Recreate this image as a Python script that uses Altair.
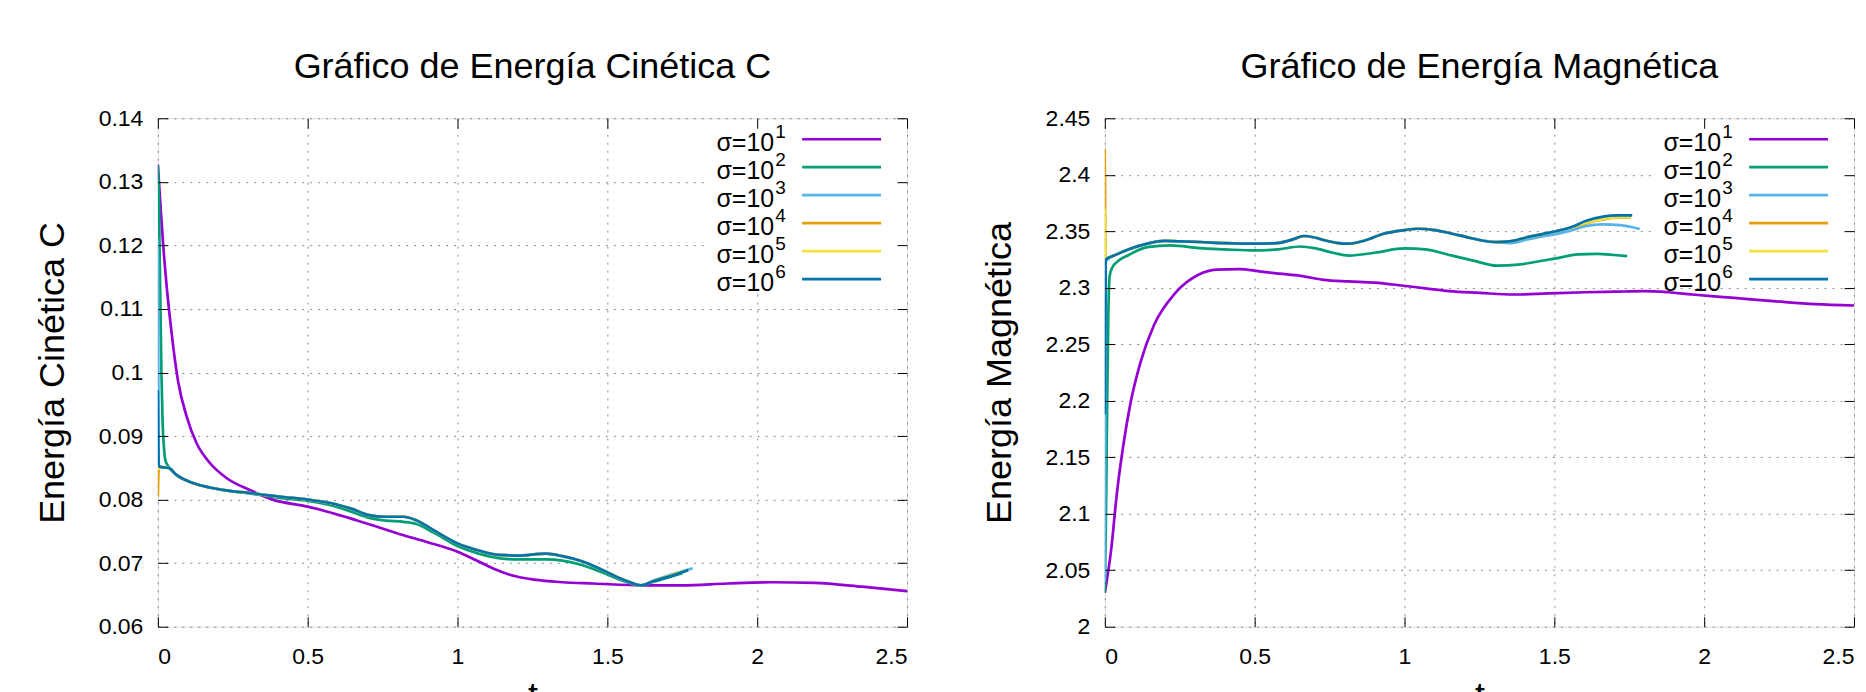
import altair as alt
import pandas as pd

FONT = "Liberation Sans"

# ---------------- series identity ----------------
series_names = ["σ=10^1", "σ=10^2", "σ=10^3", "σ=10^4", "σ=10^5", "σ=10^6"]
legend_base = ["σ=10", "σ=10", "σ=10", "σ=10", "σ=10", "σ=10"]
legend_exp = ["1", "2", "3", "4", "5", "6"]
series_colors = ["#9400d3", "#009e73", "#56b4e9", "#e69f00", "#f0e442", "#0072b2"]

x_ticks = [0, 0.5, 1, 1.5, 2, 2.5]
k_ticks = [0.06, 0.07, 0.08, 0.09, 0.1, 0.11, 0.12, 0.13, 0.14]
m_ticks = [2.0, 2.05, 2.1, 2.15, 2.2, 2.25, 2.3, 2.35, 2.4, 2.45]

# ---------------- Energía Cinética C ----------------
K1_t = [0, 0.009, 0.018, 0.029, 0.04, 0.051, 0.068, 0.096, 0.129, 0.173, 0.229, 0.307, 0.383, 0.5,
        0.66, 0.82, 0.9, 1.0, 1.06, 1.117, 1.18, 1.256, 1.35, 1.454, 1.613, 1.75, 1.9, 2.05, 2.19,
        2.35, 2.5]
K1_v = [0.1327, 0.1262, 0.1200, 0.1138, 0.1087, 0.1042, 0.0985, 0.0931, 0.0889, 0.0858, 0.0834,
        0.0815, 0.0800, 0.0789, 0.0768, 0.0744, 0.0733, 0.0718, 0.0705, 0.0692, 0.0681, 0.0674,
        0.0670, 0.0668, 0.0665, 0.0665, 0.0668, 0.0670, 0.0669, 0.0663, 0.0656]

K2_t = [0, 0.004, 0.008, 0.012, 0.016, 0.02, 0.025, 0.034, 0.062, 0.118, 0.173, 0.25, 0.30, 0.362,
        0.42, 0.50, 0.57, 0.60, 0.65, 0.70, 0.76, 0.82, 0.86, 0.92, 1.0, 1.07, 1.137, 1.2, 1.296,
        1.35, 1.415, 1.48, 1.554, 1.613, 1.65, 1.70, 1.75]
K2_v = [0.1325, 0.126, 0.112, 0.100, 0.092, 0.0885, 0.0862, 0.0853, 0.0839, 0.0826, 0.0819, 0.0813,
        0.0810, 0.0806, 0.0802, 0.0798, 0.0792, 0.0788, 0.0780, 0.0772, 0.0767, 0.0765, 0.0762,
        0.0748, 0.0727, 0.0715, 0.0708, 0.0706, 0.0706, 0.0704, 0.0697, 0.0686, 0.0672, 0.0665,
        0.0670, 0.0677, 0.0684]

K_common_t = [0.036, 0.062, 0.118, 0.173, 0.25, 0.30, 0.362, 0.42, 0.50, 0.57, 0.60, 0.65, 0.70,
              0.76, 0.82, 0.86, 0.92, 1.0, 1.07, 1.137, 1.2, 1.296, 1.35, 1.415, 1.48, 1.554, 1.613]
K_common_v = [0.0850, 0.0839, 0.0826, 0.0819, 0.0813, 0.0811, 0.0807, 0.0804, 0.0800, 0.0795,
              0.0792, 0.0785, 0.0776, 0.0773, 0.0773, 0.0768, 0.0752, 0.0731, 0.0720, 0.0713,
              0.0712, 0.0715, 0.0711, 0.0703, 0.0690, 0.0674, 0.0665]

K3_start_t = [0, 0.003, 0.012]
K3_start_v = [0.121, 0.0853, 0.0851]
K3_tail_t = [1.65, 1.70, 1.785]
K3_tail_v = [0.0672, 0.0680, 0.0692]

K4_start_t = [0, 0.003, 0.012]
K4_start_v = [0.0805, 0.0850, 0.0851]
K4_tail_t = [1.65, 1.70, 1.76]
K4_tail_v = [0.0671, 0.0679, 0.0688]

K5_start_t = [0, 0.003, 0.012]
K5_start_v = [0.0846, 0.0850, 0.0851]
K5_tail_t = [1.65, 1.70, 1.765]
K5_tail_v = [0.0671, 0.0679, 0.0689]

K6_start_t = [0, 0.003, 0.012]
K6_start_v = [0.0972, 0.0853, 0.0851]
K6_tail_t = [1.65, 1.70, 1.77]
K6_tail_v = [0.0671, 0.0678, 0.0689]

# ---------------- Energía Magnética ----------------
M1_t = [0, 0.022, 0.039, 0.062, 0.085, 0.119, 0.165, 0.234, 0.314, 0.372, 0.45, 0.515, 0.58, 0.653,
        0.73, 0.812, 0.9, 0.99, 1.07, 1.149, 1.25, 1.366, 1.48, 1.604, 1.70, 1.802, 1.88, 1.96, 2.1,
        2.24, 2.37, 2.5]
M1_v = [2.030, 2.070, 2.115, 2.161, 2.197, 2.234, 2.2675, 2.295, 2.3117, 2.316, 2.3165, 2.3145,
        2.3125, 2.3105, 2.307, 2.3056, 2.3045, 2.302, 2.2995, 2.297, 2.2955, 2.294, 2.295, 2.296,
        2.2965, 2.297, 2.296, 2.294, 2.291, 2.288, 2.2855, 2.2843]

M2_t = [0, 0.004, 0.008, 0.012, 0.016, 0.025, 0.039, 0.08, 0.142, 0.22, 0.317, 0.40, 0.5, 0.58,
        0.653, 0.70, 0.76, 0.815, 0.90, 1.0, 1.07, 1.149, 1.23, 1.308, 1.38, 1.441, 1.505, 1.58,
        1.644, 1.70, 1.743]
M2_v = [2.03, 2.10, 2.20, 2.28, 2.31, 2.318, 2.3225, 2.329, 2.336, 2.3375, 2.335, 2.334, 2.333,
        2.334, 2.3365, 2.335, 2.331, 2.3285, 2.331, 2.3348, 2.334, 2.329, 2.324, 2.3195, 2.3205,
        2.323, 2.326, 2.3295, 2.330, 2.329, 2.328]

M_common_t = [0.031, 0.08, 0.142, 0.198, 0.25, 0.317, 0.40, 0.5, 0.574, 0.63, 0.663, 0.70, 0.733,
              0.78, 0.812, 0.87, 0.93, 1.0, 1.045, 1.1, 1.149, 1.22, 1.297]
M_common_v = [2.3285, 2.334, 2.339, 2.3415, 2.341, 2.3405, 2.3395, 2.339, 2.3395, 2.343, 2.3458,
              2.3445, 2.342, 2.3395, 2.339, 2.342, 2.3478, 2.3510, 2.3522, 2.351, 2.3485, 2.344,
              2.3405]

M3_start_t = [0, 0.003, 0.012]
M3_start_v = [2.04, 2.323, 2.3255]
M3_tail_t = [1.35, 1.406, 1.46, 1.505, 1.56, 1.604, 1.66, 1.72, 1.785]
M3_tail_v = [2.3395, 2.3425, 2.3455, 2.3475, 2.351, 2.3545, 2.356, 2.3555, 2.352]

M4_start_t = [0, 0.003, 0.012]
M4_start_v = [2.423, 2.326, 2.3265]
M4_tail_t = [1.35, 1.406, 1.46, 1.505, 1.56, 1.604, 1.663, 1.71, 1.755]
M4_tail_v = [2.341, 2.3445, 2.3475, 2.350, 2.3535, 2.357, 2.3605, 2.362, 2.362]

M5_start_t = [0, 0.003, 0.012]
M5_start_v = [2.37, 2.326, 2.3265]
M5_tail_t = [1.35, 1.406, 1.46, 1.505, 1.56, 1.604, 1.663, 1.71, 1.755]
M5_tail_v = [2.341, 2.3445, 2.3475, 2.350, 2.3535, 2.3575, 2.361, 2.3625, 2.3625]

M6_start_t = [0, 0.003, 0.012]
M6_start_v = [2.188, 2.325, 2.3265]
M6_tail_t = [1.35, 1.406, 1.46, 1.505, 1.56, 1.604, 1.663, 1.71, 1.76]
M6_tail_v = [2.341, 2.3445, 2.3475, 2.350, 2.354, 2.359, 2.363, 2.364, 2.364]


def build(parts):
    rows = []
    for order, (name, t, v) in enumerate(parts):
        for a, b in zip(t, v):
            rows.append({"t": a, "v": b, "serie": name, "k": order})
    return pd.DataFrame(rows)


kin_df = build([
    (series_names[0], K1_t, K1_v),
    (series_names[1], K2_t, K2_v),
    (series_names[2], K3_start_t + K_common_t + K3_tail_t, K3_start_v + K_common_v + K3_tail_v),
    (series_names[3], K4_start_t + K_common_t + K4_tail_t, K4_start_v + K_common_v + K4_tail_v),
    (series_names[4], K5_start_t + K_common_t + K5_tail_t, K5_start_v + K_common_v + K5_tail_v),
    (series_names[5], K6_start_t + K_common_t + K6_tail_t, K6_start_v + K_common_v + K6_tail_v),
])

mag_df = build([
    (series_names[0], M1_t, M1_v),
    (series_names[1], M2_t, M2_v),
    (series_names[2], M3_start_t + M_common_t + M3_tail_t, M3_start_v + M_common_v + M3_tail_v),
    (series_names[3], M4_start_t + M_common_t + M4_tail_t, M4_start_v + M_common_v + M4_tail_v),
    (series_names[4], M5_start_t + M_common_t + M5_tail_t, M5_start_v + M_common_v + M5_tail_v),
    (series_names[5], M6_start_t + M_common_t + M6_tail_t, M6_start_v + M_common_v + M6_tail_v),
])

legend_df = pd.DataFrame({
    "serie": series_names,
    "base": legend_base,
    "exp": legend_exp,
    "row": list(range(len(series_names))),
})

W, H = 750, 509
color_scale = alt.Scale(domain=series_names, range=series_colors)


def panel(df, y_domain, y_ticks, y_title, title):
    xs = alt.Scale(domain=[0, 2.5], nice=False, zero=False)
    ys = alt.Scale(domain=y_domain, nice=False, zero=False)

    lines = alt.Chart(df).mark_line(strokeWidth=2.7, interpolate="monotone", clip=True).encode(
        x=alt.X("t:Q", scale=xs, axis=alt.Axis(
            values=x_ticks, format="~g", title="t", grid=True, gridDash=[2, 6],
            gridColor="#8a8a8a", gridWidth=1, ticks=False, tickSize=0, domain=False,
            labelFontSize=23, labelPadding=19, labelColor="#000", labelFont=FONT,
            titleFont=FONT, titleFontSize=36, titleFontWeight="normal", titleColor="#000",
            titlePadding=10)),
        y=alt.Y("v:Q", scale=ys, axis=alt.Axis(
            values=y_ticks, format="~g", title=y_title, grid=True, gridDash=[2, 6],
            gridColor="#8a8a8a", gridWidth=1, ticks=False, tickSize=0, domain=False,
            labelFontSize=23, labelPadding=15, labelColor="#000", labelFont=FONT,
            titleFont=FONT, titleFontSize=36, titleFontWeight="normal", titleColor="#000",
            titlePadding=27)),
        color=alt.Color("serie:N", scale=color_scale, legend=None),
        detail="k:Q",
    )

    def tick_axis(orient_x, orient_y):
        return alt.Chart(df).mark_point(opacity=0).encode(
            x=alt.X("t:Q", scale=xs, axis=alt.Axis(
                orient=orient_x, values=x_ticks, labels=False, grid=False, domain=False,
                ticks=True, tickSize=10, offset=-10, title=None, tickColor="#000",
                tickWidth=1, zindex=2)),
            y=alt.Y("v:Q", scale=ys, axis=alt.Axis(
                orient=orient_y, values=y_ticks, labels=False, grid=False, domain=False,
                ticks=True, tickSize=10, offset=-10, title=None, tickColor="#000",
                tickWidth=1, zindex=2)),
        )

    ticks_bl = tick_axis("bottom", "left")
    ticks_tr = tick_axis("top", "right")

    row_scale = alt.Scale(domain=[0, 5], range=[21, 161])

    leg_bg = alt.Chart(legend_df).mark_rect(fill="white", stroke=None).encode(
        x=alt.value(550), x2=alt.value(747), y=alt.value(2), y2=alt.value(170))

    leg_lines = alt.Chart(legend_df).mark_rule(strokeWidth=2.7).encode(
        x=alt.value(645), x2=alt.value(724),
        y=alt.Y("row:Q", scale=row_scale, axis=None),
        color=alt.Color("serie:N", scale=color_scale, legend=None),
    )
    leg_text = alt.Chart(legend_df).mark_text(
        align="right", baseline="middle", fontSize=25, font=FONT, color="#000", dy=4).encode(
        x=alt.value(617),
        y=alt.Y("row:Q", scale=row_scale, axis=None),
        text="base:N",
    )
    leg_exp = alt.Chart(legend_df).mark_text(
        align="left", baseline="middle", fontSize=19, font=FONT, color="#000", dy=-7).encode(
        x=alt.value(618),
        y=alt.Y("row:Q", scale=row_scale, axis=None),
        text="exp:N",
    )

    return alt.layer(
        lines, leg_bg, leg_lines, leg_text, leg_exp, ticks_bl, ticks_tr
    ).resolve_scale(x="independent", y="independent").properties(
        width=W, height=H,
        title=alt.Title(title, fontSize=36, font=FONT, fontWeight="normal", color="#000",
                        anchor="middle", offset=21),
    )


left = panel(kin_df, [0.06, 0.14], k_ticks, "Energía Cinética C", "Gráfico de Energía Cinética C")
right = panel(mag_df, [2.0, 2.45], m_ticks, "Energía Magnética", "Gráfico de Energía Magnética")

chart = alt.hconcat(left, right, spacing=69).properties(
    padding={"left": 25, "top": 40, "right": 0, "bottom": 0}
).configure_view(stroke="#000", strokeWidth=1.2).configure(background="white")

chart.save("out.html", embed_options={"renderer": "svg", "actions": False})
